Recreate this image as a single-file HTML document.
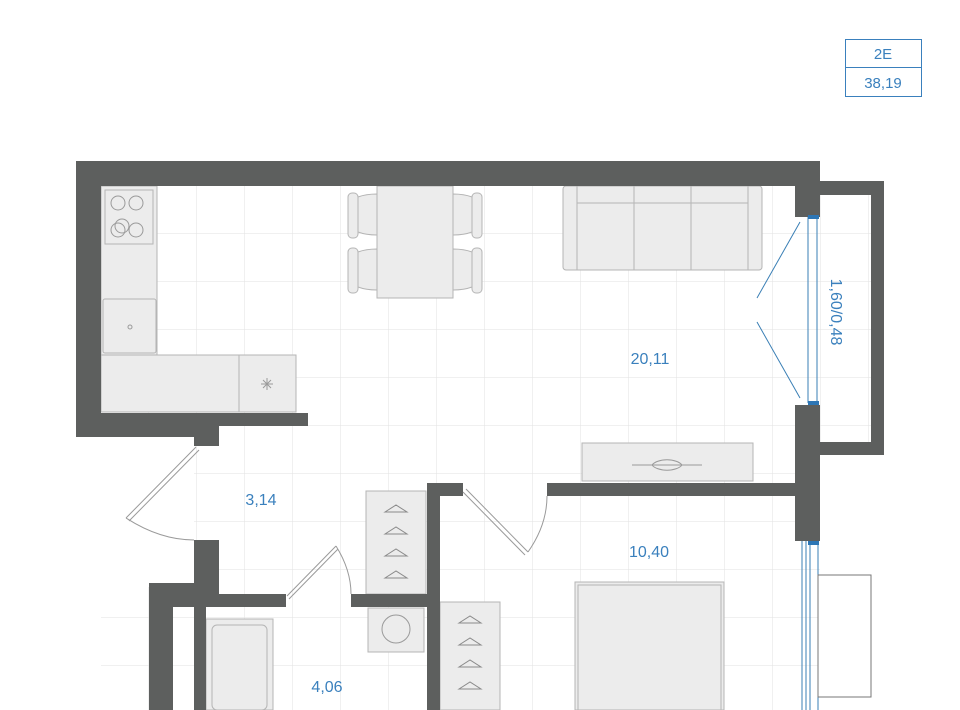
<!DOCTYPE html>
<html><head><style>body{margin:0;background:#fff}svg{display:block}</style></head><body>
<svg width="960" height="710" viewBox="0 0 960 710" xmlns="http://www.w3.org/2000/svg" font-family="Liberation Sans, sans-serif">
<defs>
<pattern id="g" x="4" y="185" width="48" height="48" patternUnits="userSpaceOnUse">
<path d="M0 0H48M0 0V48" fill="none" stroke="#e2e2e2" stroke-width="1"/>
</pattern>
</defs>
<rect x="101" y="186" width="770" height="524" fill="url(#g)"/>
<rect x="101" y="437" width="93" height="150" fill="#fff"/>
<rect x="884" y="186" width="80" height="524" fill="#fff"/>
<rect x="820" y="455" width="70" height="120" fill="#fff"/>
<rect x="820" y="697" width="70" height="20" fill="#fff"/>
<g fill="#ececec" stroke="#b5b5b5" stroke-width="1">
<rect x="101" y="186" width="56" height="169"/>
<rect x="105" y="190" width="48" height="54"/>
<rect x="103" y="299" width="53" height="54" rx="2"/>
<rect x="101" y="355" width="138" height="57"/>
<rect x="239" y="355" width="57" height="57"/>
<rect x="377" y="186" width="76" height="112"/>
<rect x="348" y="193" width="10" height="45" rx="4"/><rect x="348" y="248" width="10" height="45" rx="4"/>
<rect x="472" y="193" width="10" height="45" rx="4"/><rect x="472" y="248" width="10" height="45" rx="4"/>
<path d="M358 197Q366 194 377 194V235Q366 235 358 232Z"/><path d="M358 252Q366 249 377 249V290Q366 290 358 287Z"/>
<path d="M472 197Q464 194 453 194V235Q464 235 472 232Z"/><path d="M472 252Q464 249 453 249V290Q464 290 472 287Z"/>
<rect x="563" y="186" width="199" height="84" rx="3"/>
<rect x="577" y="186" width="57" height="84"/><rect x="634" y="186" width="57" height="84"/><rect x="691" y="186" width="57" height="84"/>
<path d="M577 203H748" fill="none"/>
<rect x="582" y="443" width="171" height="38"/>
<rect x="366" y="491" width="60" height="103"/>
<rect x="368" y="608" width="56" height="44"/>
<rect x="440" y="602" width="60" height="108"/>
<rect x="206" y="619" width="67" height="91"/>
<rect x="212" y="625" width="55" height="85" rx="5"/>
<rect x="575" y="582" width="149" height="128"/>
<rect x="578" y="585" width="143" height="125"/>
</g>
<g fill="none" stroke="#9a9a9a" stroke-width="1">
<circle cx="118" cy="203" r="7"/><circle cx="136" cy="203" r="7"/><circle cx="118" cy="230" r="7"/><circle cx="136" cy="230" r="7"/><circle cx="122" cy="226" r="7"/>
<circle cx="130" cy="327" r="2"/><circle cx="396" cy="629" r="14"/>
<path d="M261 384H273M267 378V390M263 380L271 388M271 380L263 388"/>
<path d="M632 465H702M652 465a16 8 0 0 1 30 0a16 8 0 0 1 -30 0"/>
</g>
<g fill="none" stroke="#8a8a8a" stroke-width="1">
<path d="M385 512l11-7l11 7zM385 534l11-7l11 7zM385 556l11-7l11 7zM385 578l11-7l11 7z"/>
<path d="M459 623l11-7l11 7zM459 645l11-7l11 7zM459 667l11-7l11 7zM459 689l11-7l11 7z"/>
</g>
<g fill="#5d5f5e">
<rect x="76" y="161" width="744" height="25"/>
<rect x="76" y="161" width="25" height="276"/>
<rect x="76" y="413" width="232" height="13"/>
<rect x="76" y="413" width="143" height="24"/>
<rect x="194" y="413" width="25" height="33"/>
<rect x="795" y="161" width="25" height="56"/>
<rect x="795" y="405" width="25" height="136"/>
<path d="M820 181H884V455H820V442H871V195H820Z"/>
<rect x="547" y="483" width="273" height="13"/>
<rect x="194" y="540" width="25" height="67"/>
<rect x="149" y="583" width="70" height="24"/>
<rect x="149" y="583" width="24" height="127"/>
<rect x="194" y="594" width="12" height="116"/>
<rect x="194" y="594" width="92" height="13"/>
<rect x="351" y="594" width="89" height="13"/>
<rect x="427" y="483" width="13" height="227"/>
<rect x="427" y="483" width="36" height="13"/>
</g>
<g fill="none" stroke="#3a7fb5" stroke-width="1">
<path d="M808 217V403M817 217V403M800 222L757 298M757 322L800 398"/>
<path d="M806 541V710M810 541V710M818 541V710M802 541V710"/>
</g>
<rect x="808" y="215" width="11" height="4" fill="#2d76b5"/><rect x="808" y="401" width="11" height="4" fill="#2d76b5"/>
<rect x="808" y="541" width="11" height="4" fill="#2d76b5"/>
<rect x="818" y="575" width="53" height="122" fill="#fff" stroke="#777"/>
<g fill="none" stroke="#9a9a9a" stroke-width="1">
<path d="M196 447L126 518M199 450L129 521"/>
<path d="M126 518Q160 540 194 540"/>
<path d="M287 596L336 546M289 599L338 549M336 546Q351 570 351 594"/>
<path d="M463 492L525 555M466 489L528 552M528 552Q547 525 547 496"/>
</g>
<g fill="#3a80bd" font-size="16" text-anchor="middle">
<text x="650" y="364">20,11</text>
<text x="261" y="505">3,14</text>
<text x="649" y="557">10,40</text>
<text x="327" y="692">4,06</text>
<text transform="translate(831 312) rotate(90)">1,60/0,48</text>
</g>
<rect x="845.5" y="39.5" width="76" height="57" fill="none" stroke="#3a80bd"/>
<line x1="845" y1="67.5" x2="922" y2="67.5" stroke="#3a80bd"/>
<g fill="#3a80bd" font-size="15" text-anchor="middle">
<text x="883" y="59">2E</text><text x="883" y="88">38,19</text>
</g>
</svg>
</body></html>
